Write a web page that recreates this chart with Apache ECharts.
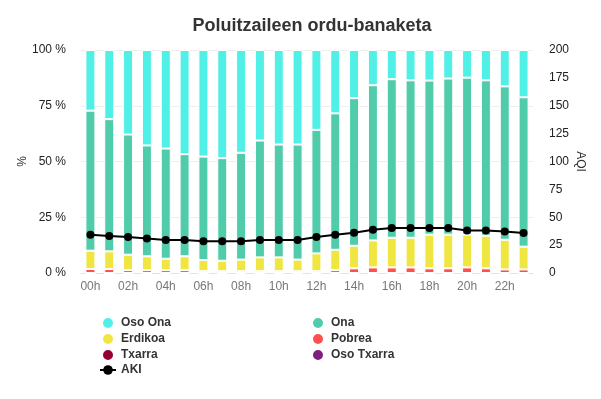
<!DOCTYPE html>
<html>
<head>
<meta charset="utf-8">
<script src="https://cdn.jsdelivr.net/npm/echarts@6/dist/echarts.min.js"></script>
<style>
    html, body { margin: 0; padding: 0; background: #fff; }
    #chart { width: 601px; height: 399px; }
</style>
</head>
<body>
<div id="chart"></div>
<script>
// -------------------------------------------------
// data
// -------------------------------------------------
const hours = ["00h", "01h", "02h", "03h", "04h", "05h", "06h", "07h", "08h", "09h", "10h", "11h",
    "12h", "13h", "14h", "15h", "16h", "17h", "18h", "19h", "20h", "21h", "22h", "23h"];

// share of each class per hour, %
const osoOna = [27.2, 31.0, 37.9, 42.8, 44.2, 46.7, 47.8, 48.5, 46.1, 40.6, 42.4, 42.4,
    35.8, 28.4, 21.6, 15.8, 13.1, 13.6, 13.7, 12.8, 12.4, 13.6, 16.3, 21.2];
const ona = [62.8, 59.3, 53.9, 49.7, 49.4, 45.8, 46.4, 46.0, 47.9, 52.4, 50.6, 51.6,
    55.4, 61.2, 66.2, 69.6, 71.1, 70.6, 69.1, 70.0, 70.4, 69.7, 68.8, 67.0];
const erdikoa = [8.2, 7.9, 6.9, 6.2, 5.1, 6.2, 5.0, 4.7, 5.2, 6.2, 6.2, 5.2,
    8.0, 9.1, 10.1, 12.1, 13.3, 13.3, 15.1, 15.1, 14.7, 14.6, 13.3, 10.2];
const pobrea = [1.8, 1.8, 1.3, 1.3, 1.3, 1.3, 0.8, 0.8, 0.8, 0.8, 0.8, 0.8,
    0.8, 1.3, 2.1, 2.5, 2.5, 2.5, 2.1, 2.1, 2.5, 2.1, 1.6, 1.6];
const txarra = [0, 0, 0, 0, 0, 0, 0, 0, 0, 0, 0, 0, 0, 0, 0, 0, 0, 0, 0, 0, 0, 0, 0, 0];
const osoTxarra = [0, 0, 0, 0, 0, 0, 0, 0, 0, 0, 0, 0, 0, 0, 0, 0, 0, 0, 0, 0, 0, 0, 0, 0];

// hourly AQI
const aki = [34.3, 33.1, 32.2, 31.0, 29.6, 29.6, 28.4, 28.4, 28.4, 29.6, 29.6, 29.6,
    32.2, 34.3, 36.1, 38.8, 40.3, 40.3, 40.3, 40.3, 38.2, 38.2, 37.3, 35.8];

const FONT = "'Liberation Sans', Arial, sans-serif";

function barSeries(name, data, color) {
    return {
        name: name,
        type: "bar",
        stack: "pct",
        barWidth: 10,
        data: data,
        itemStyle: {
            color: color,
            borderColor: "#fff",
            borderWidth: 1
        }
    };
}

const legendText = { fontSize: 12, fontWeight: "bold", color: "#333", fontFamily: FONT };

const chart = echarts.init(document.getElementById("chart"));

chart.setOption({
    animation: false,
    textStyle: { fontFamily: FONT },
    title: {
        text: "Poluitzaileen ordu-banaketa",
        left: 307,
        top: 12,
        textAlign: "center",
        textStyle: {
            fontSize: 18,
            fontWeight: "bold",
            color: "#333",
            fontFamily: FONT
        }
    },
    legend: [
        {
            orient: "vertical",
            left: 94,
            top: 311,
            itemWidth: 16,
            itemHeight: 12,
            itemGap: 2,
            data: [
                { name: "Oso Ona", icon: "circle" },
                { name: "Erdikoa", icon: "circle" },
                { name: "Txarra", icon: "circle" },
                { name: "AKI" }
            ],
            textStyle: legendText
        },
        {
            orient: "vertical",
            left: 306,
            top: 311,
            itemWidth: 16,
            itemHeight: 12,
            itemGap: 2,
            data: [
                { name: "Ona", icon: "circle" },
                { name: "Pobrea", icon: "circle" },
                { name: "Oso Txarra", icon: "circle" }
            ],
            textStyle: legendText
        }
    ],
    grid: {
        left: 81,
        right: 68,
        top: 50,
        bottom: 126
    },
    xAxis: {
        type: "category",
        data: hours,
        axisLine: { lineStyle: { color: "#dfe3ee" } },
        axisTick: { alignWithLabel: true, interval: 1, lineStyle: { color: "#dfe3ee" } },
        axisLabel: { interval: 1, color: "#777", fontSize: 12 }
    },
    yAxis: [
        {
            type: "value",
            min: 0,
            max: 100,
            interval: 25,
            name: "%",
            nameLocation: "middle",
            nameGap: 52,
            nameMoveOverlap: false,
            nameTextStyle: { color: "#333", fontSize: 12 },
            axisLabel: { formatter: "{value} %", color: "#222", fontSize: 12, margin: 15 },
            splitLine: { lineStyle: { color: "#eee" } }
        },
        {
            type: "value",
            min: 0,
            max: 200,
            interval: 25,
            name: "AQI",
            nameLocation: "middle",
            nameGap: 41,
            nameRotate: -90,
            nameMoveOverlap: false,
            nameTextStyle: { color: "#333", fontSize: 12 },
            axisLabel: { color: "#222", fontSize: 12, margin: 16 },
            splitLine: { show: false }
        }
    ],
    series: [
        barSeries("Oso Txarra", osoTxarra, "#7d2181"),
        barSeries("Txarra", txarra, "#960032"),
        barSeries("Pobrea", pobrea, "#ff5050"),
        barSeries("Erdikoa", erdikoa, "#f0e641"),
        barSeries("Ona", ona, "#50ccaa"),
        barSeries("Oso Ona", osoOna, "#50f0e6"),
        {
            name: "AKI",
            type: "line",
            yAxisIndex: 1,
            data: aki,
            symbol: "circle",
            symbolSize: 8,
            lineStyle: { color: "#000", width: 2 },
            itemStyle: { color: "#000" },
            z: 5
        }
    ]
});
</script>
</body>
</html>
